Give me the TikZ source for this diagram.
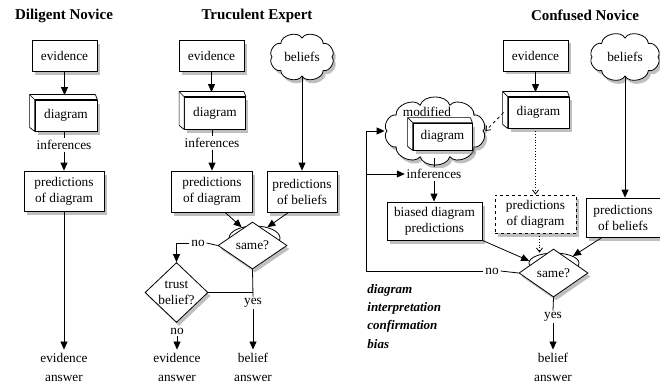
\documentclass[tikz,border=0pt]{standalone}
\usepackage{fontspec}
\setmainfont{Liberation Serif}
\usetikzlibrary{shapes.geometric,shadows,arrows.meta,calc}
\newcommand\boxfaces[1]{%
 \draw[fill=white,line width=0.7pt,line join=round] (#1.south west) -- ($(#1.south west)+(-5,-4)$) -- ($(#1.north west)+(-5,-5)$) -- ($(#1.north east)+(-2,-5)$) -- (#1.north east) -- (#1.north west) -- cycle;
 \draw[line width=0.7pt] (#1.north west) -- ($(#1.north west)+(-5,-5)$);}
\newcommand\cloudat[4]{% #1 centre node, #2 rx, #3 ry, #4 puffs
 \path[draw,fill=white,shad,line join=round] ($(#1.center)+(#2,0)$) \foreach \k in {1,...,#4}{ to[bend left=75] ($(#1.center)+({#2*cos(360*\k/#4)},{#3*sin(360*\k/#4)})$) } -- cycle;}
\begin{document}
\begin{tikzpicture}[x=1pt,y=-1pt,
  font=\fontsize{13.3}{16}\selectfont,
  line width=0.8pt,
  shad/.style={drop shadow={opacity=0.5,shadow xshift=2.5pt,shadow yshift=-3.5pt}},
  box/.style={draw,fill=white,shad,align=center,inner sep=0pt},
  dbox/.style={box,dashed},
  cldc/.style={ellipse,inner sep=0pt},
  dia/.style={diamond,draw,fill=white,shad,align=center,inner sep=0pt},
  bump/.style={ellipse,draw,fill=white,inner sep=0pt},
  ttl/.style={font=\fontsize{15}{18}\selectfont\bfseries},
  lbl/.style={fill=white,inner sep=1.5pt},
  ans/.style={align=center,font=\fontsize{13.3}{19}\selectfont},
  arr/.style={-{Triangle[length=8pt,width=7pt]}},
  oarr/.style={-{Straight Barb[length=4pt,width=6pt]}}
]
\useasboundingbox (0,0) rectangle (660,385);

% titles
\node[ttl] (t1) at (64,16) {Diligent Novice};
\node[ttl] (t2) at (257,16) {Truculent Expert};
\node[ttl] (t3) at (585,15) {Confused Novice};

% ---------- Diligent Novice
\node[box,minimum width=65,minimum height=31] (ev1) at (64.5,56) {evidence};
\node[box,minimum width=62,minimum height=31] (dg1) at (66,115.5) {diagram};
\boxfaces{dg1}
\node[lbl] (in1) at (64,145) {inferences};
\node[box,minimum width=80,minimum height=40] (pd1) at (64,191) {predictions\\of diagram};
\node[ans] (an1) at (64,367.5) {evidence\\answer};
\draw[arr,shorten >=4.5pt] (ev1.south) -- (ev1.south |- dg1.north);
\draw (in1.north |- dg1.south) -- (in1.north);
\draw[arr] (in1.south) -- (in1.south |- pd1.north);
\draw[arr] (pd1.south) -- (an1.north);

% ---------- Truculent Expert
\node[box,minimum width=65,minimum height=31] (ev2) at (211.5,56) {evidence};
\node[cldc,minimum width=60,minimum height=38] (bl2) at (302,57) {};
\cloudat{bl2}{30}{19}{8}
\node (bl2t) at (bl2.center) {beliefs};
\node[box,minimum width=61,minimum height=32] (dg2) at (215,113) {diagram};
\boxfaces{dg2}
\node[lbl] (in2) at (212,143) {inferences};
\node[box,minimum width=81,minimum height=41] (pd2) at (212,191.5) {predictions\\of diagram};
\node[box,minimum width=70,minimum height=41] (pb2) at (302,191.5) {predictions\\of beliefs};
\node[bump,minimum width=51,minimum height=24] (el2) at (254.5,238) {};
\node[dia,minimum width=69,minimum height=47] (sm2) at (252.5,245.5) {same?};
\node[lbl] (no2a) at (198,243) {no};
\node[dia,minimum width=63,minimum height=55] (tb2) at (176.5,292.5) {trust\\belief?};
\node[lbl] (ys2) at (253,303) {yes};
\node[lbl] (no2b) at (177,331) {no};
\node[ans] (an2a) at (177,367.5) {evidence\\answer};
\node[ans] (an2b) at (253,367.5) {belief\\answer};
\draw[arr,shorten >=4.5pt] (ev2.south) -- (ev2.south |- dg2.north);
\draw (in2.north |- dg2.south) -- (in2.north);
\draw[arr] (in2.south) -- (in2.south |- pd2.north);
\draw[arr] (bl2.south) -- (pb2.north);
\draw[arr] ($(pd2.south west)!0.66!(pd2.south east)$) -- (el2.140);
\draw[arr] ($(pb2.south west)!0.31!(pb2.south east)$) -- (el2.40);
\draw (sm2.west) -- (no2a.east);
\draw[arr] (no2a.west) -| (tb2.north);
\draw (sm2.south) -- (ys2.north);
\draw (tb2.east) -- (tb2.east -| sm2.south);
\draw[arr] (ys2.south) -- (an2b.north);
\draw[arr] (no2b.south) -- (an2a.north);

% ---------- Confused Novice
\node[box,minimum width=65,minimum height=31] (ev3) at (535.5,55.5) {evidence};
\node[cldc,minimum width=66,minimum height=38] (bl3) at (625,57) {};
\cloudat{bl3}{33}{19}{8}
\node (bl3t) at (bl3.center) {beliefs};
\node[box,minimum width=61,minimum height=31] (dg3) at (538.5,112.5) {diagram};
\boxfaces{dg3}
\node[cldc,minimum width=100,minimum height=54] (mc3) at (435,131) {};
\cloudat{mc3}{48}{27}{10}
\node[inner sep=0pt] (mt3) at (427,112) {modified};
\node[box,minimum width=59,minimum height=27] (md3) at (442.5,136.5) {diagram};
\boxfaces{md3}
\node[lbl] (in3) at (434,174) {inferences};
\node[box,minimum width=95,minimum height=38] (bd3) at (434.5,221) {biased diagram\\predictions};
\node[dbox,minimum width=81,minimum height=38] (pd3) at (535.5,214) {predictions\\of diagram};
\node[box,minimum width=74,minimum height=39] (pb3) at (623,217.5) {predictions\\of beliefs};
\node[bump,minimum width=50,minimum height=20] (el3) at (554,263) {};
\node[dia,minimum width=69,minimum height=48] (sm3) at (553.5,273) {same?};
\node[lbl] (no3) at (492,271) {no};
\node[lbl] (ys3) at (553,317) {yes};
\node[ans] (an3) at (553,367.5) {belief\\answer};
\node[anchor=north west,inner sep=0pt,align=left,font=\fontsize{13}{18.2}\selectfont\bfseries\itshape] (cb3) at (367,284) {diagram\\interpretation\\confirmation\\bias};
\coordinate (lc3) at (366,271);
\coordinate (dp3) at ($(pd3.south)+(4,0)$);

\draw[arr,shorten >=4.5pt] (ev3.south) -- (ev3.south |- dg3.north);
\draw[arr] (bl3.south) -- (bl3.south |- pb3.north);
\draw[dashed,oarr] ($(dg3.west)+(-4,0)$) -- (mc3.east);
\draw[dotted,oarr] (pd3.north |- dg3.south) -- (pd3.north);
\draw (mc3.south -| in3.north) -- (in3.north);
\draw[arr] (in3.south) -- (in3.south |- bd3.north);
\draw[arr] (bd3.south east) -- (el3.175);
\draw[dotted,oarr] (dp3) -- (dp3 |- el3.north);
\draw[arr] ($(pb3.south west)!0.22!(pb3.south east)$) -- (el3.20);
\draw (sm3.west) -- (no3.east);
\draw[arr] (no3.west) -- (lc3) |- (mc3.west);
\draw[arr] (lc3 |- in3.west) -- (in3.west);
\draw (sm3.south) -- (ys3.north);
\draw[arr] (ys3.south) -- (an3.north);
\end{tikzpicture}
\end{document}
